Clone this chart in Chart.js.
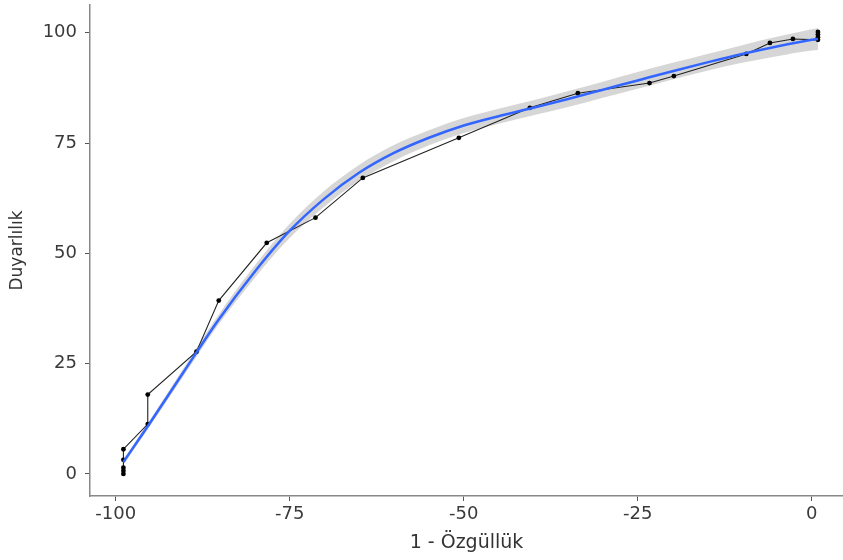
<!DOCTYPE html>
<html>
<head>
<meta charset="utf-8">
<script src="https://cdn.jsdelivr.net/npm/chart.js@4/dist/chart.umd.min.js"></script>
<style>
  html, body { margin: 0; padding: 0; background: #fff; }
  #wrap { width: 843px; height: 560px; }
</style>
</head>
<body>
<div id="wrap"><canvas id="chartCanvas"></canvas></div>
<script>
// observed ROC points (1 - specificity, sensitivity)
const rocX = [-98.9, -98.9, -98.9, -98.9, -98.9, -95.4, -95.4, -88.4, -85.2, -78.3, -71.3, -64.5, -50.7, -40.5, -33.6, -23.3, -19.8, -9.4, -6.0, -2.7, 0.9, 0.9, 0.9, 0.9];
const rocY = [0, 0.7, 1.4, 3.2, 5.6, 11.3, 18.0, 27.7, 39.3, 52.4, 58.1, 67.1, 76.2, 83.0, 86.3, 88.6, 90.2, 95.2, 97.7, 98.6, 98.4, 99.0, 99.6, 100.2];

// loess fit and its confidence band
const smoothX = [-98.9, -95.4, -90.3, -85.3, -80.2, -75.2, -70.1, -65.1, -60.1, -55, -50, -45, -40, -35, -30, -25, -20, -15, -10, -5, 0, 0.9];
const smoothY = [2.7, 10.8, 23, 34.8, 45.5, 54.8, 62.3, 68.2, 72.7, 76.2, 79, 81.1, 83, 85, 87.1, 89.2, 91.3, 93.3, 95.2, 96.9, 98.4, 98.6];
const bandLow = [2.1, 10.1, 22.1, 33.7, 44.1, 53.2, 60.5, 66.4, 70.9, 74.5, 77.3, 79.4, 81.3, 83.2, 85.3, 87.3, 89.4, 91.4, 93.2, 94.7, 96.0, 96.1];
const bandHigh = [3.3, 11.5, 23.9, 35.9, 46.9, 56.4, 64.1, 70.0, 74.5, 77.9, 80.7, 82.8, 84.7, 86.8, 88.9, 91.1, 93.2, 95.2, 97.2, 99.1, 100.8, 101.1];

const xTicks = [-100, -75, -50, -25, 0];
const yTicks = [0, 25, 50, 75, 100];

const pts = (xs, ys) => xs.map((x, i) => ({ x: x, y: ys[i] }));

Chart.defaults.font.family = '"DejaVu Sans", Arial, sans-serif';
Chart.defaults.color = '#3a3a3a';

const ctx = document.getElementById('chartCanvas').getContext('2d');
new Chart(ctx, {
    type: 'scatter',
    data: {
        datasets: [
            {
                label: 'band high',
                data: pts(smoothX, bandHigh),
                showLine: true,
                borderWidth: 0,
                pointRadius: 0,
                cubicInterpolationMode: 'monotone',
                backgroundColor: 'rgba(153,153,153,0.4)',
                fill: '+1',
                order: 3
            },
            {
                label: 'band low',
                data: pts(smoothX, bandLow),
                showLine: true,
                borderWidth: 0,
                pointRadius: 0,
                cubicInterpolationMode: 'monotone',
                fill: false,
                order: 3
            },
            {
                label: 'roc',
                data: pts(rocX, rocY),
                showLine: true,
                borderColor: '#222',
                borderWidth: 1.1,
                backgroundColor: '#000',
                pointRadius: 2.4,
                pointBorderWidth: 0,
                order: 2
            },
            {
                label: 'smooth',
                data: pts(smoothX, smoothY),
                showLine: true,
                borderColor: '#3366FF',
                borderWidth: 2.5,
                pointRadius: 0,
                cubicInterpolationMode: 'monotone',
                order: 1
            }
        ]
    },
    options: {
        responsive: true,
        maintainAspectRatio: false,
        animation: false,
        layout: { autoPadding: false, padding: { left: 0, right: 0, top: 5, bottom: 0 } },
        plugins: {
            legend: { display: false },
            tooltip: { enabled: false }
        },
        scales: {
            x: {
                type: 'linear',
                min: -103.7,
                max: 4.5,
                afterBuildTicks: (axis) => { axis.ticks = xTicks.map(v => ({ value: v })); },
                afterFit: (axis) => { axis.height = 64; axis.paddingLeft = 0; axis.paddingRight = 0; },
                grid: { display: true, drawOnChartArea: false, drawTicks: true, tickLength: 5, color: '#555', lineWidth: 1 },
                border: { display: true, color: '#888', width: 1.5 },
                ticks: { font: { size: 18 }, padding: 3, maxRotation: 0 },
                title: { display: true, text: '1 - Özgüllük', font: { size: 19 }, color: '#333', padding: { top: 0, bottom: 6 } }
            },
            y: {
                min: -5,
                max: 106.3,
                afterBuildTicks: (axis) => { axis.ticks = yTicks.map(v => ({ value: v })); },
                afterFit: (axis) => { axis.width = 90; axis.paddingTop = 0; axis.paddingBottom = 0; },
                grid: { display: true, drawOnChartArea: false, drawTicks: true, tickLength: 5, color: '#555', lineWidth: 1 },
                border: { display: true, color: '#888', width: 1.5 },
                ticks: { font: { size: 18 }, padding: 8 },
                title: { display: true, text: 'Duyarlılık', font: { size: 17 }, color: '#333', padding: { top: 7, bottom: 0 } }
            }
        }
    }
});
</script>
</body>
</html>
